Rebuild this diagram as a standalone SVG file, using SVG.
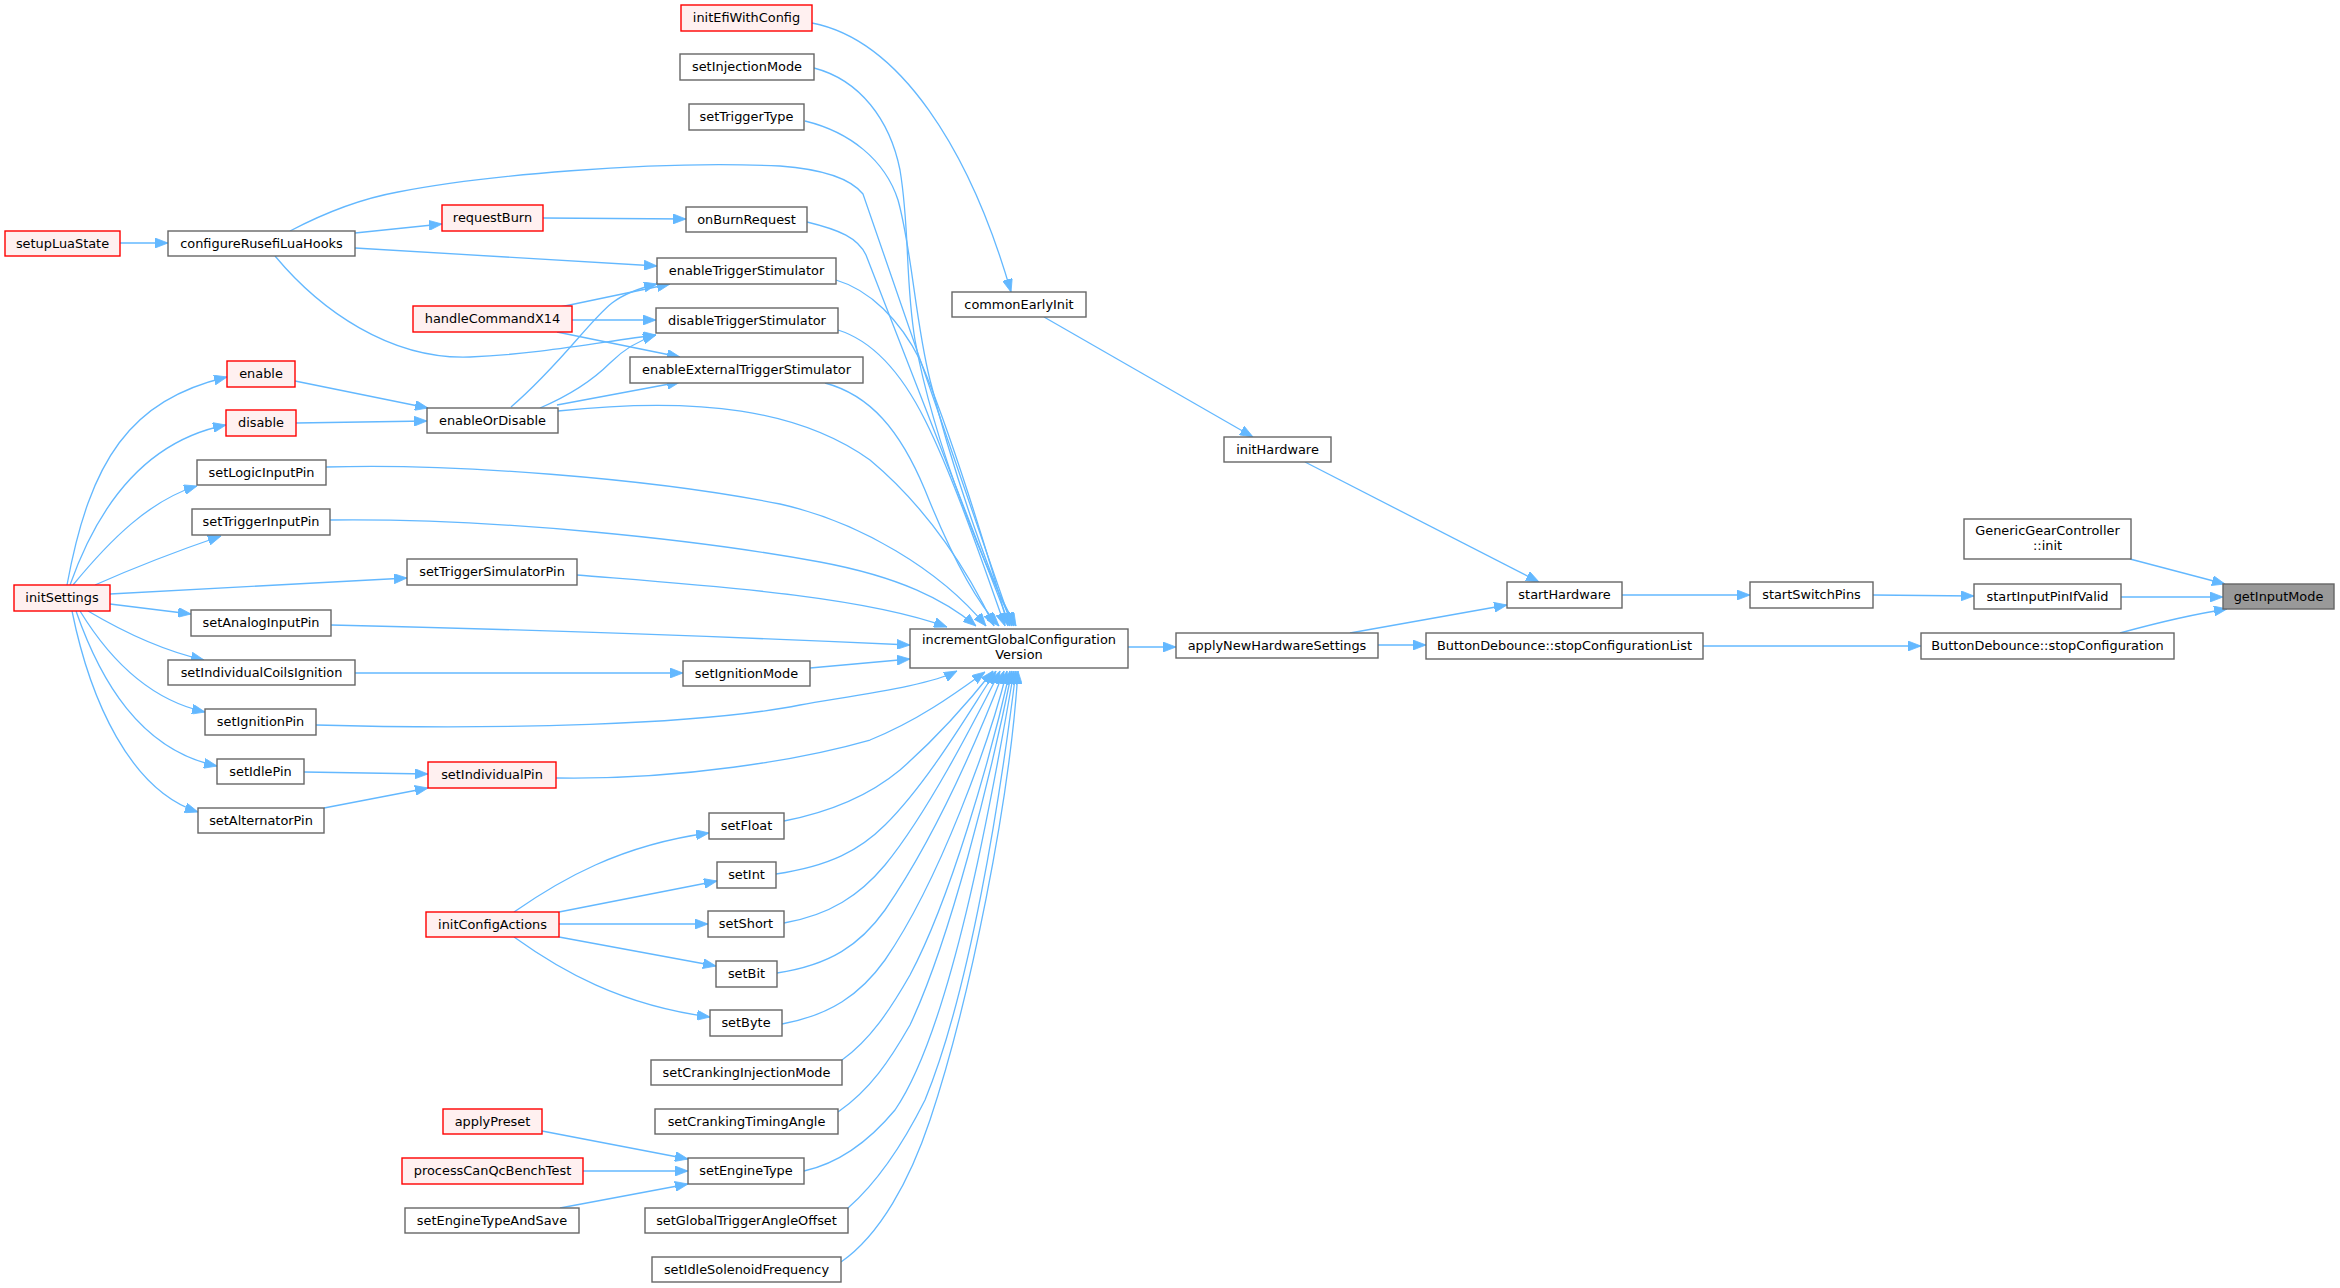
<svg xmlns="http://www.w3.org/2000/svg" width="2340" height="1288" viewBox="0 0 2340 1288">
<style>
.n rect{fill:#ffffff;stroke:#666666;stroke-width:1.4}
.r rect{fill:#fff0f0;stroke:#ff0000;stroke-width:1.4}
.root rect{fill:#999999;stroke:#666666;stroke-width:1.4}
text{font-family:"DejaVu Sans","Noto Sans",sans-serif;font-size:12.9px;text-anchor:middle;fill:#000}
#edges path{fill:none;stroke:#63b8ff;stroke-width:1.3;marker-end:url(#a)}
</style>
<defs>
<marker id="a" viewBox="0 0 13 10" refX="13" refY="5" markerWidth="13" markerHeight="10" markerUnits="userSpaceOnUse" orient="auto">
<path d="M0,0 L13,5 L0,10 z" fill="#63b8ff" stroke="#63b8ff" stroke-width="0.8"/>
</marker>
</defs>
<rect width="2340" height="1288" fill="#ffffff"/>
<g id="edges">
<path d="M2130,559 L2225,584"/>
<path d="M2121,597 L2223,597"/>
<path d="M2120,633 C2160,622 2195,614 2227,609"/>
<path d="M1873,595 L1974,596"/>
<path d="M1622,595 L1750,595"/>
<path d="M1703,646 L1921,646"/>
<path d="M1350,633 L1507,605"/>
<path d="M1378,645 L1426,645"/>
<path d="M1305,462 L1539,582"/>
<path d="M1044,317 L1253,437"/>
<path d="M812,23 C900,40 970,150 1011,292"/>
<path d="M1128,647 L1176,647"/>
<path d="M120,243 L168,243"/>
<path d="M355,233 L442,224"/>
<path d="M543,218 L686,219"/>
<path d="M355,248 L657,266"/>
<path d="M275,256 C320,310 390,360 470,357 C540,354 600,342 656,335"/>
<path d="M560,307 L670,284"/>
<path d="M572,320 L656,320"/>
<path d="M557,332 L680,357"/>
<path d="M511,407 C560,365 590,320 612,303 C625,293 640,288 657,284"/>
<path d="M540,408 C575,393 595,378 610,363 C625,348 640,340 656,335"/>
<path d="M557,405 L680,382"/>
<path d="M295,381 L428,408"/>
<path d="M296,423 L427,421"/>
<path d="M67,585 C90,460 130,400 227,377"/>
<path d="M70,585 C100,500 150,440 226,425"/>
<path d="M73,585 C110,540 150,500 197,486"/>
<path d="M95,585 C140,565 180,550 221,536"/>
<path d="M110,594 L407,578"/>
<path d="M110,604 L191,614"/>
<path d="M88,611 C120,630 160,650 204,660"/>
<path d="M80,611 C110,660 150,700 205,712"/>
<path d="M76,611 C100,680 140,750 217,766"/>
<path d="M72,611 C90,700 130,790 198,812"/>
<path d="M355,673 L683,673"/>
<path d="M304,772 L428,774"/>
<path d="M324,808 L428,788"/>
<path d="M514,912 C560,880 620,845 709,833"/>
<path d="M559,912 L717,881"/>
<path d="M559,924 L708,924"/>
<path d="M559,937 L716,966"/>
<path d="M514,937 C560,970 620,1005 710,1017"/>
<path d="M542,1131 L688,1159"/>
<path d="M583,1171 L688,1171"/>
<path d="M560,1208 L688,1184"/>
<path d="M577,575 C700,585 860,595 947,627"/>
<path d="M330,520 C500,518 700,540 820,562 C900,577 945,600 976,626"/>
<path d="M326,467 C450,463 650,478 780,504 C860,522 940,570 986,626"/>
<path d="M558,411 C700,396 800,410 870,460 C930,510 970,575 994,626"/>
<path d="M825,383 C870,395 900,430 925,490 C945,540 970,595 999,626"/>
<path d="M838,330 C870,340 900,370 925,420 C955,480 985,570 1005,626"/>
<path d="M836,280 C870,290 900,320 920,360 C950,430 990,560 1008,626"/>
<path d="M807,222 C840,230 858,238 866,255 L1010,626"/>
<path d="M290,231 C330,210 365,198 398,192 C480,176 650,160 780,166 C820,169 850,178 863,194 L1012,626"/>
<path d="M805,121 C850,132 885,160 898,200 C912,250 915,320 930,380 C955,480 995,590 1014,626"/>
<path d="M814,68 C860,80 890,120 900,170 C910,230 905,280 915,340 C935,450 990,580 1016,626"/>
<path d="M331,625 C550,630 800,640 910,645"/>
<path d="M810,668 L910,659"/>
<path d="M316,725 C500,730 700,725 800,705 C870,693 930,685 957,671"/>
<path d="M556,778 C680,780 800,760 870,740 C920,720 960,690 985,672"/>
<path d="M784,821 C830,812 870,795 900,770 C940,735 970,700 993,671"/>
<path d="M776,874 C830,866 860,850 885,825 C930,780 970,710 996,671"/>
<path d="M784,923 C830,915 860,895 885,865 C930,810 980,710 1000,671"/>
<path d="M777,973 C830,965 860,945 885,910 C940,830 985,720 1004,671"/>
<path d="M782,1024 C830,1015 860,995 885,960 C940,880 990,740 1007,671"/>
<path d="M842,1060 C870,1040 890,1010 910,975 C950,900 990,760 1010,671"/>
<path d="M838,1112 C870,1090 890,1060 910,1025 C950,940 990,780 1012,671"/>
<path d="M804,1171 C840,1163 870,1140 895,1110 C950,1030 990,810 1014,671"/>
<path d="M848,1208 C880,1180 905,1140 925,1100 C970,990 1000,800 1016,671"/>
<path d="M841,1262 C880,1235 910,1180 930,1120 C970,1000 1010,800 1018,671"/>
</g>
<g id="initEfiWithConfig" class="r"><rect x="681" y="5" width="131" height="26"/><text x="746.5" y="22">initEfiWithConfig</text></g>
<g id="setInjectionMode" class="n"><rect x="680" y="54" width="134" height="26"/><text x="747" y="71">setInjectionMode</text></g>
<g id="setTriggerType" class="n"><rect x="689" y="104" width="115" height="26"/><text x="746.5" y="121">setTriggerType</text></g>
<g id="onBurnRequest" class="n"><rect x="686" y="207" width="121" height="25"/><text x="746.5" y="223.5">onBurnRequest</text></g>
<g id="enableTriggerStimulator" class="n"><rect x="657" y="258" width="179" height="26"/><text x="746.5" y="275">enableTriggerStimulator</text></g>
<g id="disableTriggerStimulator" class="n"><rect x="656" y="308" width="182" height="25"/><text x="747" y="324.5">disableTriggerStimulator</text></g>
<g id="enableExternalTriggerStimulator" class="n"><rect x="630" y="357" width="233" height="26"/><text x="746.5" y="374">enableExternalTriggerStimulator</text></g>
<g id="requestBurn" class="r"><rect x="442" y="205" width="101" height="26"/><text x="492.5" y="222">requestBurn</text></g>
<g id="setupLuaState" class="r"><rect x="5" y="231" width="115" height="25"/><text x="62.5" y="247.5">setupLuaState</text></g>
<g id="configureRusefiLuaHooks" class="n"><rect x="168" y="231" width="187" height="25"/><text x="261.5" y="247.5">configureRusefiLuaHooks</text></g>
<g id="handleCommandX14" class="r"><rect x="413" y="306" width="159" height="26"/><text x="492.5" y="323">handleCommandX14</text></g>
<g id="enable" class="r"><rect x="227" y="361" width="68" height="26"/><text x="261" y="378">enable</text></g>
<g id="disable" class="r"><rect x="226" y="410" width="70" height="26"/><text x="261" y="427">disable</text></g>
<g id="enableOrDisable" class="n"><rect x="427" y="408" width="131" height="25"/><text x="492.5" y="424.5">enableOrDisable</text></g>
<g id="setLogicInputPin" class="n"><rect x="197" y="460" width="129" height="25"/><text x="261.5" y="476.5">setLogicInputPin</text></g>
<g id="setTriggerInputPin" class="n"><rect x="192" y="509" width="138" height="26"/><text x="261" y="526">setTriggerInputPin</text></g>
<g id="setTriggerSimulatorPin" class="n"><rect x="407" y="559" width="170" height="26"/><text x="492" y="576">setTriggerSimulatorPin</text></g>
<g id="initSettings" class="r"><rect x="14" y="585" width="96" height="26"/><text x="62" y="602">initSettings</text></g>
<g id="setAnalogInputPin" class="n"><rect x="191" y="610" width="140" height="26"/><text x="261" y="627">setAnalogInputPin</text></g>
<g id="setIndividualCoilsIgnition" class="n"><rect x="168" y="660" width="187" height="25"/><text x="261.5" y="676.5">setIndividualCoilsIgnition</text></g>
<g id="setIgnitionMode" class="n"><rect x="683" y="661" width="127" height="25"/><text x="746.5" y="677.5">setIgnitionMode</text></g>
<g id="setIgnitionPin" class="n"><rect x="205" y="709" width="111" height="26"/><text x="260.5" y="726">setIgnitionPin</text></g>
<g id="setIdlePin" class="n"><rect x="217" y="759" width="87" height="25"/><text x="260.5" y="775.5">setIdlePin</text></g>
<g id="setIndividualPin" class="r"><rect x="428" y="762" width="128" height="26"/><text x="492" y="779">setIndividualPin</text></g>
<g id="setAlternatorPin" class="n"><rect x="198" y="808" width="126" height="25"/><text x="261" y="824.5">setAlternatorPin</text></g>
<g id="setFloat" class="n"><rect x="709" y="813" width="75" height="26"/><text x="746.5" y="830">setFloat</text></g>
<g id="setInt" class="n"><rect x="717" y="862" width="59" height="26"/><text x="746.5" y="879">setInt</text></g>
<g id="setShort" class="n"><rect x="708" y="911" width="76" height="26"/><text x="746" y="928">setShort</text></g>
<g id="setBit" class="n"><rect x="716" y="961" width="61" height="26"/><text x="746.5" y="978">setBit</text></g>
<g id="setByte" class="n"><rect x="710" y="1010" width="72" height="26"/><text x="746" y="1027">setByte</text></g>
<g id="initConfigActions" class="r"><rect x="426" y="912" width="133" height="25"/><text x="492.5" y="928.5">initConfigActions</text></g>
<g id="setCrankingInjectionMode" class="n"><rect x="651" y="1060" width="191" height="25"/><text x="746.5" y="1076.5">setCrankingInjectionMode</text></g>
<g id="setCrankingTimingAngle" class="n"><rect x="655" y="1109" width="183" height="25"/><text x="746.5" y="1125.5">setCrankingTimingAngle</text></g>
<g id="applyPreset" class="r"><rect x="443" y="1109" width="99" height="25"/><text x="492.5" y="1125.5">applyPreset</text></g>
<g id="setEngineType" class="n"><rect x="688" y="1158" width="116" height="26"/><text x="746" y="1175">setEngineType</text></g>
<g id="processCanQcBenchTest" class="r"><rect x="402" y="1158" width="181" height="26"/><text x="492.5" y="1175">processCanQcBenchTest</text></g>
<g id="setEngineTypeAndSave" class="n"><rect x="405" y="1208" width="174" height="25"/><text x="492" y="1224.5">setEngineTypeAndSave</text></g>
<g id="setGlobalTriggerAngleOffset" class="n"><rect x="645" y="1208" width="203" height="25"/><text x="746.5" y="1224.5">setGlobalTriggerAngleOffset</text></g>
<g id="setIdleSolenoidFrequency" class="n"><rect x="652" y="1257" width="189" height="25"/><text x="746.5" y="1273.5">setIdleSolenoidFrequency</text></g>
<g id="commonEarlyInit" class="n"><rect x="952" y="292" width="134" height="25"/><text x="1019" y="308.5">commonEarlyInit</text></g>
<g id="initHardware" class="n"><rect x="1224" y="437" width="107" height="25"/><text x="1277.5" y="453.5">initHardware</text></g>
<g id="startHardware" class="n"><rect x="1507" y="582" width="115" height="26"/><text x="1564.5" y="599">startHardware</text></g>
<g id="incrementGlobalConfigurationVersion" class="n"><rect x="910" y="629" width="218" height="39"/><text x="1019" y="644">incrementGlobalConfiguration</text><text x="1019" y="658.5">Version</text></g>
<g id="applyNewHardwareSettings" class="n"><rect x="1176" y="633" width="202" height="25"/><text x="1277" y="649.5">applyNewHardwareSettings</text></g>
<g id="ButtonDebounce_stopConfigurationList" class="n"><rect x="1426" y="633" width="277" height="26"/><text x="1564.5" y="650">ButtonDebounce::stopConfigurationList</text></g>
<g id="startSwitchPins" class="n"><rect x="1750" y="582" width="123" height="26"/><text x="1811.5" y="599">startSwitchPins</text></g>
<g id="GenericGearController_init" class="n"><rect x="1964" y="519" width="167" height="40"/><text x="2047.5" y="535">GenericGearController</text><text x="2047.5" y="550">::init</text></g>
<g id="startInputPinIfValid" class="n"><rect x="1974" y="584" width="147" height="25"/><text x="2047.5" y="600.5">startInputPinIfValid</text></g>
<g id="ButtonDebounce_stopConfiguration" class="n"><rect x="1921" y="633" width="253" height="26"/><text x="2047.5" y="650">ButtonDebounce::stopConfiguration</text></g>
<g id="getInputMode" class="root"><rect x="2223" y="584" width="111" height="25"/><text x="2278.5" y="600.5">getInputMode</text></g>
</svg>
